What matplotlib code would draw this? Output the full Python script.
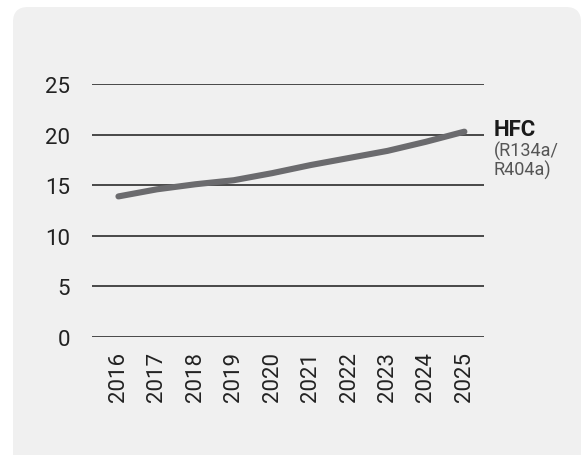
import matplotlib
matplotlib.use("Agg")
import matplotlib.pyplot as plt
import matplotlib.patches as mpatches
from matplotlib.transforms import IdentityTransform

years = ["2016", "2017", "2018", "2019", "2020", "2021", "2022", "2023", "2024", "2025"]
hfc = [13.9, 14.6, 15.1, 15.5, 16.2, 17.0, 17.7, 18.4, 19.3, 20.3]
y_ticks = [0, 5, 10, 15, 20, 25]

plt.rcParams['font.family'] = ['Roboto', 'DejaVu Sans']

fig = plt.figure(figsize=(5.82, 4.56), dpi=100)
fig.patch.set_facecolor("white")

# light grey card behind the chart, rounded corners, runs off the bottom edge
card = mpatches.FancyBboxPatch((13, -20), 568, 468,
                               boxstyle="round,pad=0,rounding_size=15",
                               transform=IdentityTransform(),
                               facecolor="#f0f0f0", edgecolor="none", zorder=-10)
fig.patches.append(card)

ax = fig.add_axes([0.1586, 0.2586, 0.673, 0.5548])
ax.set_facecolor("none")
ax.set_zorder(1)

x = list(range(len(years)))
for t in y_ticks:
    ax.axhline(t, color="#1a1a1a", linewidth=1.1, zorder=1)

ax.plot(x, hfc, color="#6b6b6e", linewidth=4.4, solid_capstyle="round",
        solid_joinstyle="round", zorder=3, clip_on=False)

ax.set_xlim(-0.68, 9.51)
ax.set_ylim(0, 25)
ax.set_yticks(y_ticks)
ax.set_yticklabels([str(t) for t in y_ticks], fontsize=16, color="#222222")
ax.set_xticks(x)
ax.set_xticklabels(years, rotation=90, fontsize=16, color="#222222")
ax.tick_params(axis="both", length=0)
ax.tick_params(axis="y", pad=16)
ax.tick_params(axis="x", pad=10)
for s in ax.spines.values():
    s.set_visible(False)

ax.text(9.76, 20.0, "HFC", fontsize=16, fontweight="bold", color="#1a1a1a",
        ha="left", va="baseline", transform=ax.transData)
ax.text(9.76, 16.0, "(R134a/\nR404a)", fontsize=13, color="#555555",
        ha="left", va="baseline", linespacing=1.0, transform=ax.transData)

fig.savefig("out.png", dpi=100)
